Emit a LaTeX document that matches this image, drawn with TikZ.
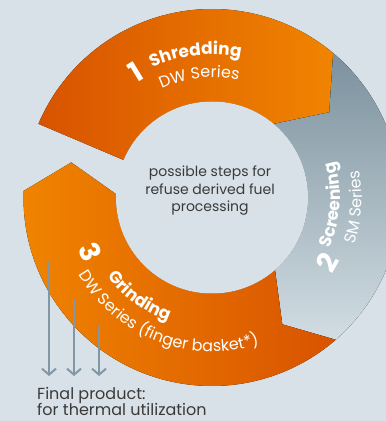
\documentclass[tikz,border=0pt]{standalone}
\usepackage{fontspec}
\setmainfont{Poppins}
\usepackage{tikz}
\usetikzlibrary{arrows.meta,decorations.text}

\definecolor{bgblue}{HTML}{D8E1E7}
\definecolor{hubblue}{HTML}{D7E1E7}
\definecolor{orangedark}{HTML}{D85300}
\definecolor{orangelight}{HTML}{F08400}
\definecolor{slatedark}{HTML}{7B919D}
\definecolor{slatelight}{HTML}{D2DDE3}
\definecolor{arrowgray}{HTML}{8198A4}
\definecolor{textgray}{HTML}{3A3A3A}

\tikzset{
	steplabel/.style={decorate, decoration={text along path, text align=center, text color=white}},
	stepnum/.style={text=white, font=\fontsize{28}{28}\selectfont\bfseries, inner sep=0pt},
	outflow/.style={arrowgray, line width=2pt, -{Straight Barb[length=6pt, width=14pt]}}
}

\begin{document}
\begin{tikzpicture}[x=1pt, y=1pt]
	% Frame and background
	\useasboundingbox (0,0) rectangle (386,421);
	\clip (0,0) rectangle (386,421);
	\fill[bgblue] (0,0) rectangle (386,421);
	\coordinate (c) at (212,223.5);
	\begin{scope}[shift={(c)}]
		% Step 1: shredding (tip points into step 2)
		\fill[left color=orangedark, right color=orangelight]
		(157:188.5) arc[start angle=157, end angle=50, radius=188.5]
		-- (36:145) -- (50:96) arc[start angle=50, end angle=157, radius=96] -- cycle;
		% Step 2: screening
		\fill[top color=slatedark, bottom color=slatelight]
		(50:188.5) arc[start angle=50, end angle=-49, radius=188.5]
		-- (-61:145) -- (-49:96) arc[start angle=-49, end angle=50, radius=96]
		-- (36:145) -- cycle;
		% Step 3: grinding
		\fill[left color=orangelight, right color=orangedark]
		(-49:188.5) -- (-61:145) -- (-49:96)
		arc[start angle=-49, end angle=-182, radius=96]
		-- (-194:145) -- (-182:188.5)
		arc[start angle=-182, end angle=-49, radius=188.5] -- cycle;
		% Hub
		\fill[hubblue] (0,0) circle (96);
		% Step numbers
		\node[stepnum, rotate=31.5] (one) at (121.5:147) {1};
		\node[stepnum, rotate=60.7] (two) at (-29.3:132) {2};
		\node[stepnum, rotate=-65.8] (three) at (204.2:133) {3};
		% Curved step labels
		\path[steplabel, decoration={text={|\fontsize{17}{17}\selectfont\bfseries|Shredding}}]
		(136.6:143) arc[start angle=136.6, end angle=56.6, radius=143];
		\path[steplabel, decoration={text={|\fontsize{16}{16}\selectfont|DW Series}}]
		(136:120) arc[start angle=136, end angle=56, radius=120];
		\path[steplabel, decoration={text={|\fontsize{17}{17}\selectfont\bfseries|Screening}}]
		(-43.5:128) arc[start angle=-43.5, end angle=36.5, radius=128];
		\path[steplabel, decoration={text={|\fontsize{16}{16}\selectfont|SM Series}}]
		(-44:150) arc[start angle=-44, end angle=36, radius=150];
		\path[steplabel, decoration={text={|\fontsize{17}{17}\selectfont\bfseries|Grinding}}]
		(193.8:131) arc[start angle=193.8, end angle=273.8, radius=131];
		\path[steplabel, decoration={text={|\fontsize{16}{16}\selectfont|DW Series (finger basket*)}}]
		(194:154) arc[start angle=194, end angle=304, radius=154];
	\end{scope}
	% Hub text
	\node[text=textgray, align=center, font=\fontsize{14}{17.5}\selectfont] (hubtext) at (210,230)
	{possible steps for\\refuse derived fuel\\processing};
	% Output arrows
	\coordinate (drop1) at (49,159);
	\coordinate (drop2) at (74,122);
	\coordinate (drop3) at (99,95);
	\coordinate (land1) at (49,45);
	\coordinate (land2) at (74,45);
	\coordinate (land3) at (99,45);
	\draw[outflow] (drop1) -- (land1);
	\draw[outflow] (drop2) -- (land2);
	\draw[outflow] (drop3) -- (land3);
	% Final product
	\node[anchor=base west, inner sep=0pt, text=textgray, font=\fontsize{16}{16}\selectfont] (final) at (37,21) {Final product:};
	\node[anchor=base west, inner sep=0pt, text=textgray, font=\fontsize{16}{16}\selectfont] (usage) at (37,5.5) {for thermal utilization};
\end{tikzpicture}
\end{document}
